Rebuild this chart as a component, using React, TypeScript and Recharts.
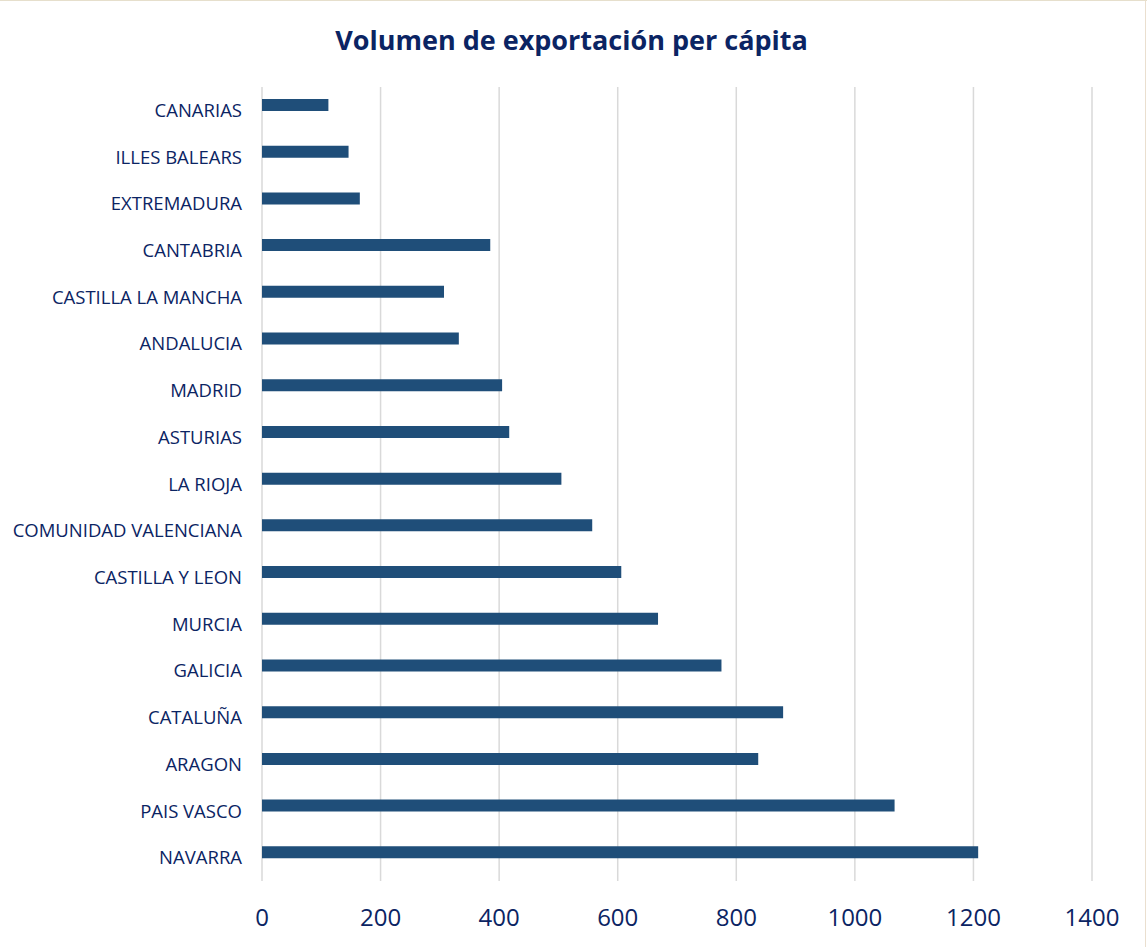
import { BarChart, Bar, XAxis, YAxis, CartesianGrid } from 'recharts';

const regions = [
  'CANARIAS',
  'ILLES BALEARS',
  'EXTREMADURA',
  'CANTABRIA',
  'CASTILLA LA MANCHA',
  'ANDALUCIA',
  'MADRID',
  'ASTURIAS',
  'LA RIOJA',
  'COMUNIDAD VALENCIANA',
  'CASTILLA Y LEON',
  'MURCIA',
  'GALICIA',
  'CATALUÑA',
  'ARAGON',
  'PAIS VASCO',
  'NAVARRA',
];

const exportPerCapita = [112, 146, 165, 385, 307, 332, 405, 417, 505, 557, 606, 668, 775, 879, 837, 1067, 1208];

const xTicks = [0, 200, 400, 600, 800, 1000, 1200, 1400];

const data = regions.map((region, i) => ({ region, value: exportPerCapita[i] }));

const navy = '#0b2463';
const barColor = '#1f4e79';

// Excel leaves the bars slightly above the band centre, so grid lines run a bit lower
const gridLine = (props: any) => {
  const { x1, x2, y1, y2, key } = props;
  return <line key={key} x1={x1} x2={x2} y1={y1 + 5} y2={y2 + 5} stroke="#d9d9d9" strokeWidth={1.5} />;
};

export default function App() {
  return (
    <div
      style={{
        position: 'absolute',
        left: 0,
        top: 0,
        width: 1147,
        height: 947,
        background: '#fff',
        borderTop: '1px solid #e6dfcc',
        boxSizing: 'border-box',
        fontFamily: '"Open Sans", sans-serif',
      }}
    >
      <div
        style={{
          position: 'absolute',
          left: 0,
          width: 1143,
          top: 20,
          textAlign: 'center',
          fontSize: 27,
          fontWeight: 700,
          color: navy,
        }}
      >
        Volumen de exportación per cápita
      </div>
      <div style={{ position: 'absolute', right: 1, top: 0, width: 1, height: 947, background: '#eadfcf' }} />
      <BarChart
        width={1147}
        height={946}
        data={data}
        layout="vertical"
        margin={{ top: 81, right: 55, bottom: 11, left: 0 }}
      >
        <CartesianGrid horizontal={false} vertical={gridLine} />
        <XAxis
          type="number"
          domain={[0, 1400]}
          ticks={xTicks}
          axisLine={false}
          tickLine={false}
          tickSize={0}
          tickMargin={33}
          height={60}
          tick={{ fill: navy, fontSize: 24, fontFamily: '"Open Sans", sans-serif' }}
        />
        <YAxis
          type="category"
          dataKey="region"
          width={262}
          axisLine={false}
          tickLine={false}
          tickSize={0}
          tickMargin={20}
          interval={0}
          tick={{ fill: navy, fontSize: 18.5, dy: 5, fontFamily: '"Open Sans", sans-serif' }}
        />
        <Bar dataKey="value" fill={barColor} barSize={12} isAnimationActive={false} />
      </BarChart>
    </div>
  );
}
